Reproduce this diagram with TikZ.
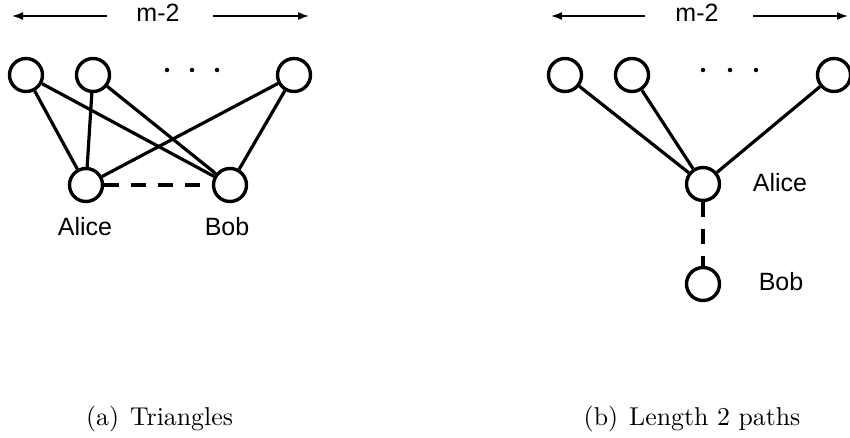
\documentclass[tikz,border=0pt]{standalone}
\usepackage{fontspec}
\newfontfamily\labelfont{Liberation Sans}
\usetikzlibrary{arrows.meta}
\tikzset{
  vtx/.style={circle, draw, line width=3.4pt, minimum size=33pt, inner sep=0pt},
  link/.style={line width=3.2pt},
  dashlink/.style={line width=3.2pt, dash pattern=on 15pt off 12pt},
  spanarrow/.style={line width=1.6pt, -{Latex[length=11pt,width=8pt]}},
  lbl/.style={font=\labelfont\fontsize{25}{30}\selectfont, anchor=base, inner sep=0pt},
  captext/.style={font=\fontsize{10}{12}\selectfont, scale=2.58, anchor=base, inner sep=0pt},
  ellipsisdot/.style={fill, circle, inner sep=0pt, minimum size=4.5pt}
}
\begin{document}
\begin{tikzpicture}[x=1pt,y=-1pt]
\useasboundingbox (0,0) rectangle (850,438);

% ---------- (a) triangles ----------
\node[lbl] (ma) at (158,22) {m-2};
\coordinate (maL0) at (107,16);
\coordinate (maL1) at (12,16);
\coordinate (maR0) at (213,16);
\coordinate (maR1) at (309,16);
\draw[spanarrow] (maL0) -- (maL1);
\draw[spanarrow] (maR0) -- (maR1);

\node[vtx] (a1) at (26,75) {};
\node[vtx] (a2) at (93,75) {};
\node[vtx] (a3) at (294,75) {};
\node[ellipsisdot] (ad1) at (167,70) {};
\node[ellipsisdot] (ad2) at (192,70) {};
\node[ellipsisdot] (ad3) at (217,70) {};

\node[vtx] (aA) at (86,185) {};
\node[vtx] (aB) at (230,185) {};

\foreach \t in {a1,a2,a3} {
  \draw[link] (\t) -- (aA);
  \draw[link] (\t) -- (aB);
}
\draw[dashlink] (aA) -- (aB);

\node[lbl] (aAl) at (85,235) {Alice};
\node[lbl] (aBl) at (227,235) {Bob};

\node[captext] (capa) at (159.5,425) {(a)\hskip 4.3pt Triangles};

% ---------- (b) length 2 paths ----------
\node[lbl] (mb) at (697,22) {m-2};
\coordinate (mbL0) at (645,16);
\coordinate (mbL1) at (551,16);
\coordinate (mbR0) at (753,16);
\coordinate (mbR1) at (848,16);
\draw[spanarrow] (mbL0) -- (mbL1);
\draw[spanarrow] (mbR0) -- (mbR1);

\node[vtx] (b1) at (565,75) {};
\node[vtx] (b2) at (632,75) {};
\node[vtx] (b3) at (834,75) {};
\node[ellipsisdot] (bd1) at (703,70) {};
\node[ellipsisdot] (bd2) at (730,70) {};
\node[ellipsisdot] (bd3) at (756,70) {};

\node[vtx] (bA) at (703,184) {};
\node[vtx] (bB) at (703,284) {};

\foreach \t in {b1,b2,b3} {
  \draw[link] (\t) -- (bA);
}
\draw[dashlink] (bA) -- (bB);

\node[lbl] (bAl) at (780,192) {Alice};
\node[lbl] (bBl) at (781,290) {Bob};

\node[captext] (capb) at (692,425) {(b)\hskip 4.3pt Length 2 paths};
\end{tikzpicture}
\end{document}
